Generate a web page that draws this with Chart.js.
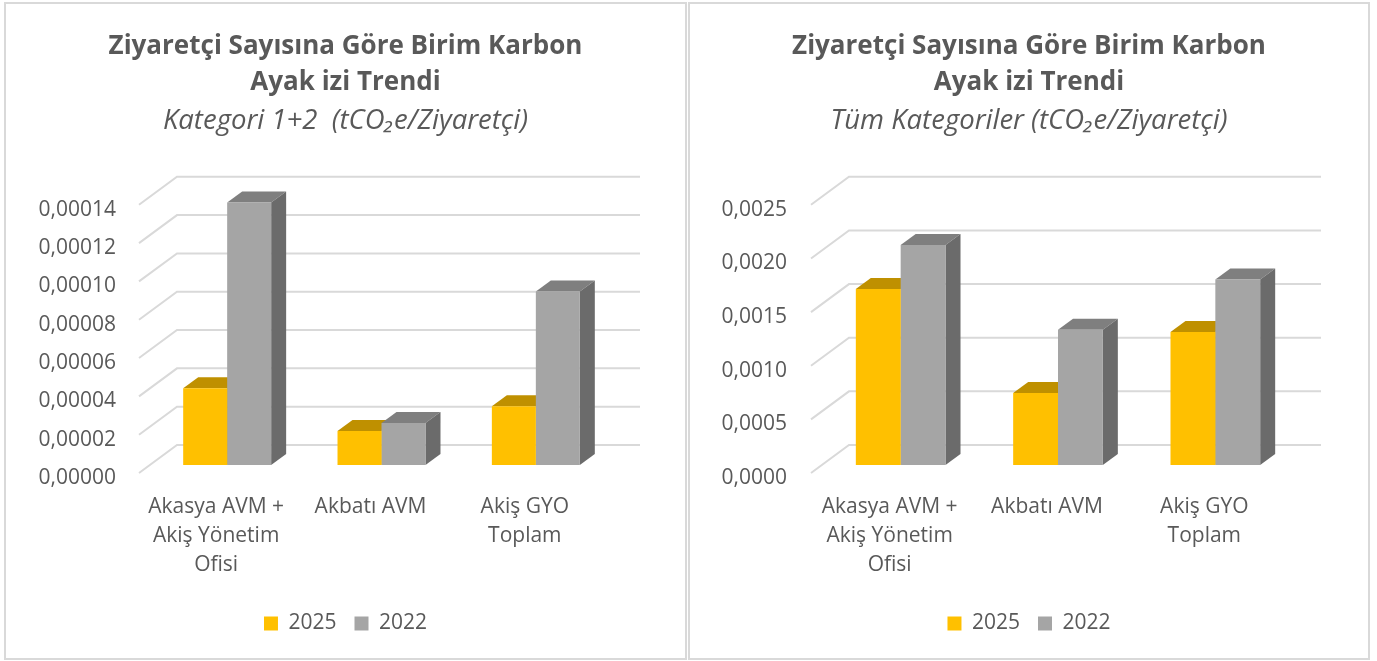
<!DOCTYPE html>
<html>
<head>
<meta charset="utf-8">
<script src="https://cdn.jsdelivr.net/npm/chart.js@4.4.1/dist/chart.umd.min.js"></script>
<style>
    body { margin: 0; background: #ffffff; }
    .box { position: absolute; top: 2px; border: 2px solid #d9d9d9; background: #fff; }
    #leftBox { left: 4px; }
    #rightBox { left: 688px; }
    canvas { display: block; }
</style>
</head>
<body>
<div class="box" id="leftBox"><canvas id="leftChart" width="679" height="654"></canvas></div>
<div class="box" id="rightBox"><canvas id="rightChart" width="678" height="654"></canvas></div>
<script>
// categories and series
const categories = [['Akasya AVM +', 'Akiş Yönetim', 'Ofisi'], ['Akbatı AVM'], ['Akiş GYO', 'Toplam']];
const seriesNames = ['2025', '2022'];

// Kategori 1+2 (tCO2e/Ziyaretçi)
const scope12_2025 = [0.0000400, 0.0000177, 0.0000307];
const scope12_2022 = [0.000137, 0.0000219, 0.0000906];

// Tüm Kategoriler (tCO2e/Ziyaretçi)
const allCat_2025 = [0.00164, 0.00067, 0.00124];
const allCat_2022 = [0.00205, 0.00126, 0.00173];

// axis ticks
const leftAxis = { max: 0.00014, step: 0.00002, decimals: 5 };
const rightAxis = { max: 0.0025, step: 0.0005, decimals: 4 };

const titleLines = ['Ziyaretçi Sayısına Göre Birim Karbon', 'Ayak izi Trendi'];
const leftSubtitle = 'Kategori 1+2  (tCO\u2082e/Ziyaretçi)';
const rightSubtitle = 'Tüm Kategoriler (tCO\u2082e/Ziyaretçi)';

const textColor = '#595959';
const gridColor = '#d9d9d9';
const fontFamily = '"Open Sans", "Noto Sans", sans-serif';

// front, top, side colours of each series
const faceColors = [
    { front: '#FFC000', top: '#BF9000', side: '#BF9000' },
    { front: '#A5A5A5', top: '#7F7F7F', side: '#6B6B6B' }
];

// depth offsets of the fake 3D view (px)
const depth = { frontX: -11, frontY: 8, backX: 27, backY: -20, barX: 15, barY: -11 };

// draws back wall grid, side grid and the top/side faces of the columns
const fake3d = {
    id: 'fake3d',
    beforeDatasetsDraw(chart) {
        const ctx = chart.ctx;
        const area = chart.chartArea;
        const yScale = chart.scales.y;
        ctx.save();
        ctx.strokeStyle = gridColor;
        ctx.lineWidth = 2;
        yScale.ticks.forEach(t => {
            const py = yScale.getPixelForValue(t.value);
            ctx.beginPath();
            ctx.moveTo(area.left + depth.frontX, py + depth.frontY);
            ctx.lineTo(area.left + depth.backX, py + depth.backY);
            ctx.lineTo(area.right + depth.backX, py + depth.backY);
            ctx.stroke();
        });

        chart.data.datasets.forEach((ds, i) => {
            const meta = chart.getDatasetMeta(i);
            const c = faceColors[i];
            meta.data.forEach(bar => {
                const p = bar.getProps(['x', 'y', 'base', 'width']);
                const l = p.x - p.width / 2;
                const r = p.x + p.width / 2;
                // top face
                ctx.fillStyle = c.top;
                ctx.beginPath();
                ctx.moveTo(l, p.y);
                ctx.lineTo(r, p.y);
                ctx.lineTo(r + depth.barX, p.y + depth.barY);
                ctx.lineTo(l + depth.barX, p.y + depth.barY);
                ctx.closePath();
                ctx.fill();
                // side face
                ctx.fillStyle = c.side;
                ctx.beginPath();
                ctx.moveTo(r, p.y);
                ctx.lineTo(r + depth.barX, p.y + depth.barY);
                ctx.lineTo(r + depth.barX, p.base + depth.barY);
                ctx.lineTo(r, p.base);
                ctx.closePath();
                ctx.fill();
            });
        });
        ctx.restore();
    }
};

function makeChart(canvasId, subtitle, values2025, values2022, axis, yWidth, yPad, rightSpace) {
    return new Chart(document.getElementById(canvasId), {
        type: 'bar',
        data: {
            labels: categories,
            datasets: [
                { label: seriesNames[0], data: values2025, backgroundColor: faceColors[0].front },
                { label: seriesNames[1], data: values2022, backgroundColor: faceColors[1].front }
            ]
        },
        options: {
            responsive: false,
            animation: false,
            events: [],
            layout: { padding: { left: 0, right: 0, top: 0, bottom: 14 } },
            datasets: { bar: { barPercentage: 1, categoryPercentage: 0.57 } },
            scales: {
                x: {
                    grid: { display: false, drawTicks: false },
                    border: { display: false },
                    ticks: {
                        color: textColor,
                        font: { family: fontFamily, size: 21, lineHeight: 1.37 },
                        padding: 28,
                        labelOffset: -11,
                        maxRotation: 0,
                        autoSkip: false
                    },
                    afterFit: scale => { scale.height = 130; }
                },
                y: {
                    min: 0,
                    max: axis.max,
                    grid: { display: false, drawTicks: false },
                    border: { display: false },
                    ticks: {
                        stepSize: axis.step,
                        color: textColor,
                        font: { family: fontFamily, size: 21 },
                        padding: yPad,
                        labelOffset: 13,
                        callback: v => v.toFixed(axis.decimals).replace('.', ',')
                    },
                    afterFit: scale => { scale.width = yWidth; }
                },
                // empty axis that only reserves the space right of the back wall
                yRight: {
                    position: 'right',
                    grid: { display: false, drawTicks: false },
                    border: { display: false },
                    ticks: { display: false },
                    afterFit: scale => { scale.width = rightSpace; }
                }
            },
            plugins: {
                title: {
                    display: true,
                    text: titleLines,
                    color: textColor,
                    font: { family: fontFamily, size: 26, weight: 'bold', lineHeight: 1.4 },
                    padding: { top: 24, bottom: 0 }
                },
                subtitle: {
                    display: true,
                    text: subtitle,
                    color: textColor,
                    font: { family: fontFamily, size: 27.5, style: 'italic', lineHeight: 1.2 },
                    padding: { top: 4, bottom: 59 }
                },
                legend: {
                    position: 'bottom',
                    labels: {
                        color: textColor,
                        font: { family: fontFamily, size: 21 },
                        boxWidth: 14,
                        boxHeight: 14,
                        padding: 18
                    }
                },
                tooltip: { enabled: false }
            }
        },
        plugins: [fake3d]
    });
}

makeChart('leftChart', leftSubtitle, scope12_2025, scope12_2022, leftAxis, 144, 34, 72);
makeChart('rightChart', rightSubtitle, allCat_2025, allCat_2022, rightAxis, 132, 35, 74);
</script>
</body>
</html>
